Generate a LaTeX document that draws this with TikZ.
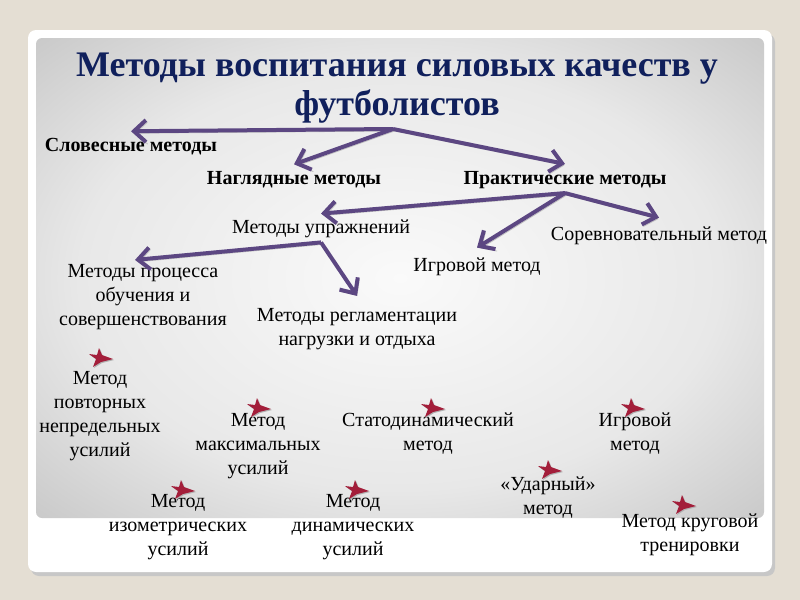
\documentclass[tikz,border=0pt]{standalone}
\usepackage{fontspec}
\setmainfont{Liberation Serif}
\usepackage{tikz}
\usetikzlibrary{arrows.meta}

\definecolor{slidebg}{HTML}{E4DED3}
\definecolor{titleblue}{HTML}{10205C}
\definecolor{arrowpurple}{HTML}{5C4782}
\definecolor{markred}{HTML}{A31E3A}
\pgfdeclareradialshading{slidegray}{\pgfpoint{0bp}{0bp}}{color(0bp)=(gray!4); color(22bp)=(gray!18); color(50bp)=(gray!68); color(72bp)=(gray!85)}

\begin{document}
\begin{tikzpicture}[
   x=0.5pt,y=-0.5pt,
   every node/.style={font=\fontsize{10}{12}\selectfont,align=center,inner sep=2pt},
   head/.style={font=\fontsize{10}{12}\selectfont\bfseries},
   title/.style={font=\fontsize{18}{19.5}\selectfont\bfseries,text=titleblue},
   branch/.style={-{Straight Barb[length=6pt,width=11pt,line width=2pt]},line width=2pt,draw=arrowpurple,
      preaction={draw=black!25,transform canvas={shift={(0.8pt,-1pt)}}}},
   redmark/.pic={
      \fill[black!30] (14,2) -- (3,-2) -- (0,-9) -- (-2,-2) -- (-10,-3) -- (-3,2) -- (-6,10) -- (2,5) -- cycle;
      \fill[markred] (13,1) -- (2,-3) -- (-1,-10) -- (-3,-3) -- (-11,-4) -- (-4,1) -- (-7,9) -- (1,4) -- cycle;}]
\useasboundingbox (0,0) rectangle (800,600);
\fill[slidebg] (0,0) rectangle (800,600);
\fill[black!22,rounded corners=4pt] (31,34) rectangle (775,576);
\fill[white,rounded corners=4pt] (28,30) rectangle (772,572);
\shade[shading=slidegray,rounded corners=3pt] (36,38) rectangle (764,518);

\node[title] (ttl) at (397,88) {Методы воспитания силовых качеств у\\футболистов};
\node[head] (slov) at (131,147) {Словесные методы};
\node[head] (nagl) at (294,180) {Наглядные методы};
\node[head] (prak) at (565,180) {Практические методы};
\node (upr) at (321,229) {Методы упражнений};
\node (sor) at (659,236) {Соревновательный метод};
\node (igr) at (477,267) {Игровой метод};
\node (proc) at (143,297) {Методы процесса\\обучения и\\совершенствования};
\node (regl) at (357,329) {Методы регламентации\\нагрузки и отдыха};
\node (povt) at (100,416) {Метод\\повторных\\непредельных\\усилий};
\node (maks) at (258,446) {Метод\\максимальных\\усилий};
\node (stat) at (428,434) {Статодинамический\\метод};
\node (igm) at (635,434) {Игровой\\метод};
\node (udar) at (548,498) {«Ударный»\\метод};
\node (izom) at (178,527) {Метод\\изометрических\\усилий};
\node (dina) at (353,527) {Метод\\динамических\\усилий};
\node (krug) at (690,535) {Метод круговой\\тренировки};

\coordinate (hub) at (393,129);
\draw[branch] (hub) -- ([yshift=1.5pt]slov.north);
\draw[branch] (hub) -- ([yshift=1.5pt]nagl.north);
\draw[branch] (hub) -- ([yshift=1.5pt]prak.north);
\draw[branch] (prak.south) -- ([yshift=1pt]upr.north);
\draw[branch] (prak.south) -- ([yshift=3pt]igr.north);
\draw[branch] (prak.south) -- ([yshift=2.5pt]sor.north);
\draw[branch] (upr.south) -- ([xshift=-4pt]proc.north);
\draw[branch] (upr.south) -- ([yshift=4pt]regl.north);

\pic at (100,358) {redmark};
\pic at (258,408) {redmark};
\pic at (432,408) {redmark};
\pic at (632,408) {redmark};
\pic at (549,470) {redmark};
\pic at (182,490) {redmark};
\pic at (356,490) {redmark};
\pic at (683,505) {redmark};
\end{tikzpicture}
\end{document}
